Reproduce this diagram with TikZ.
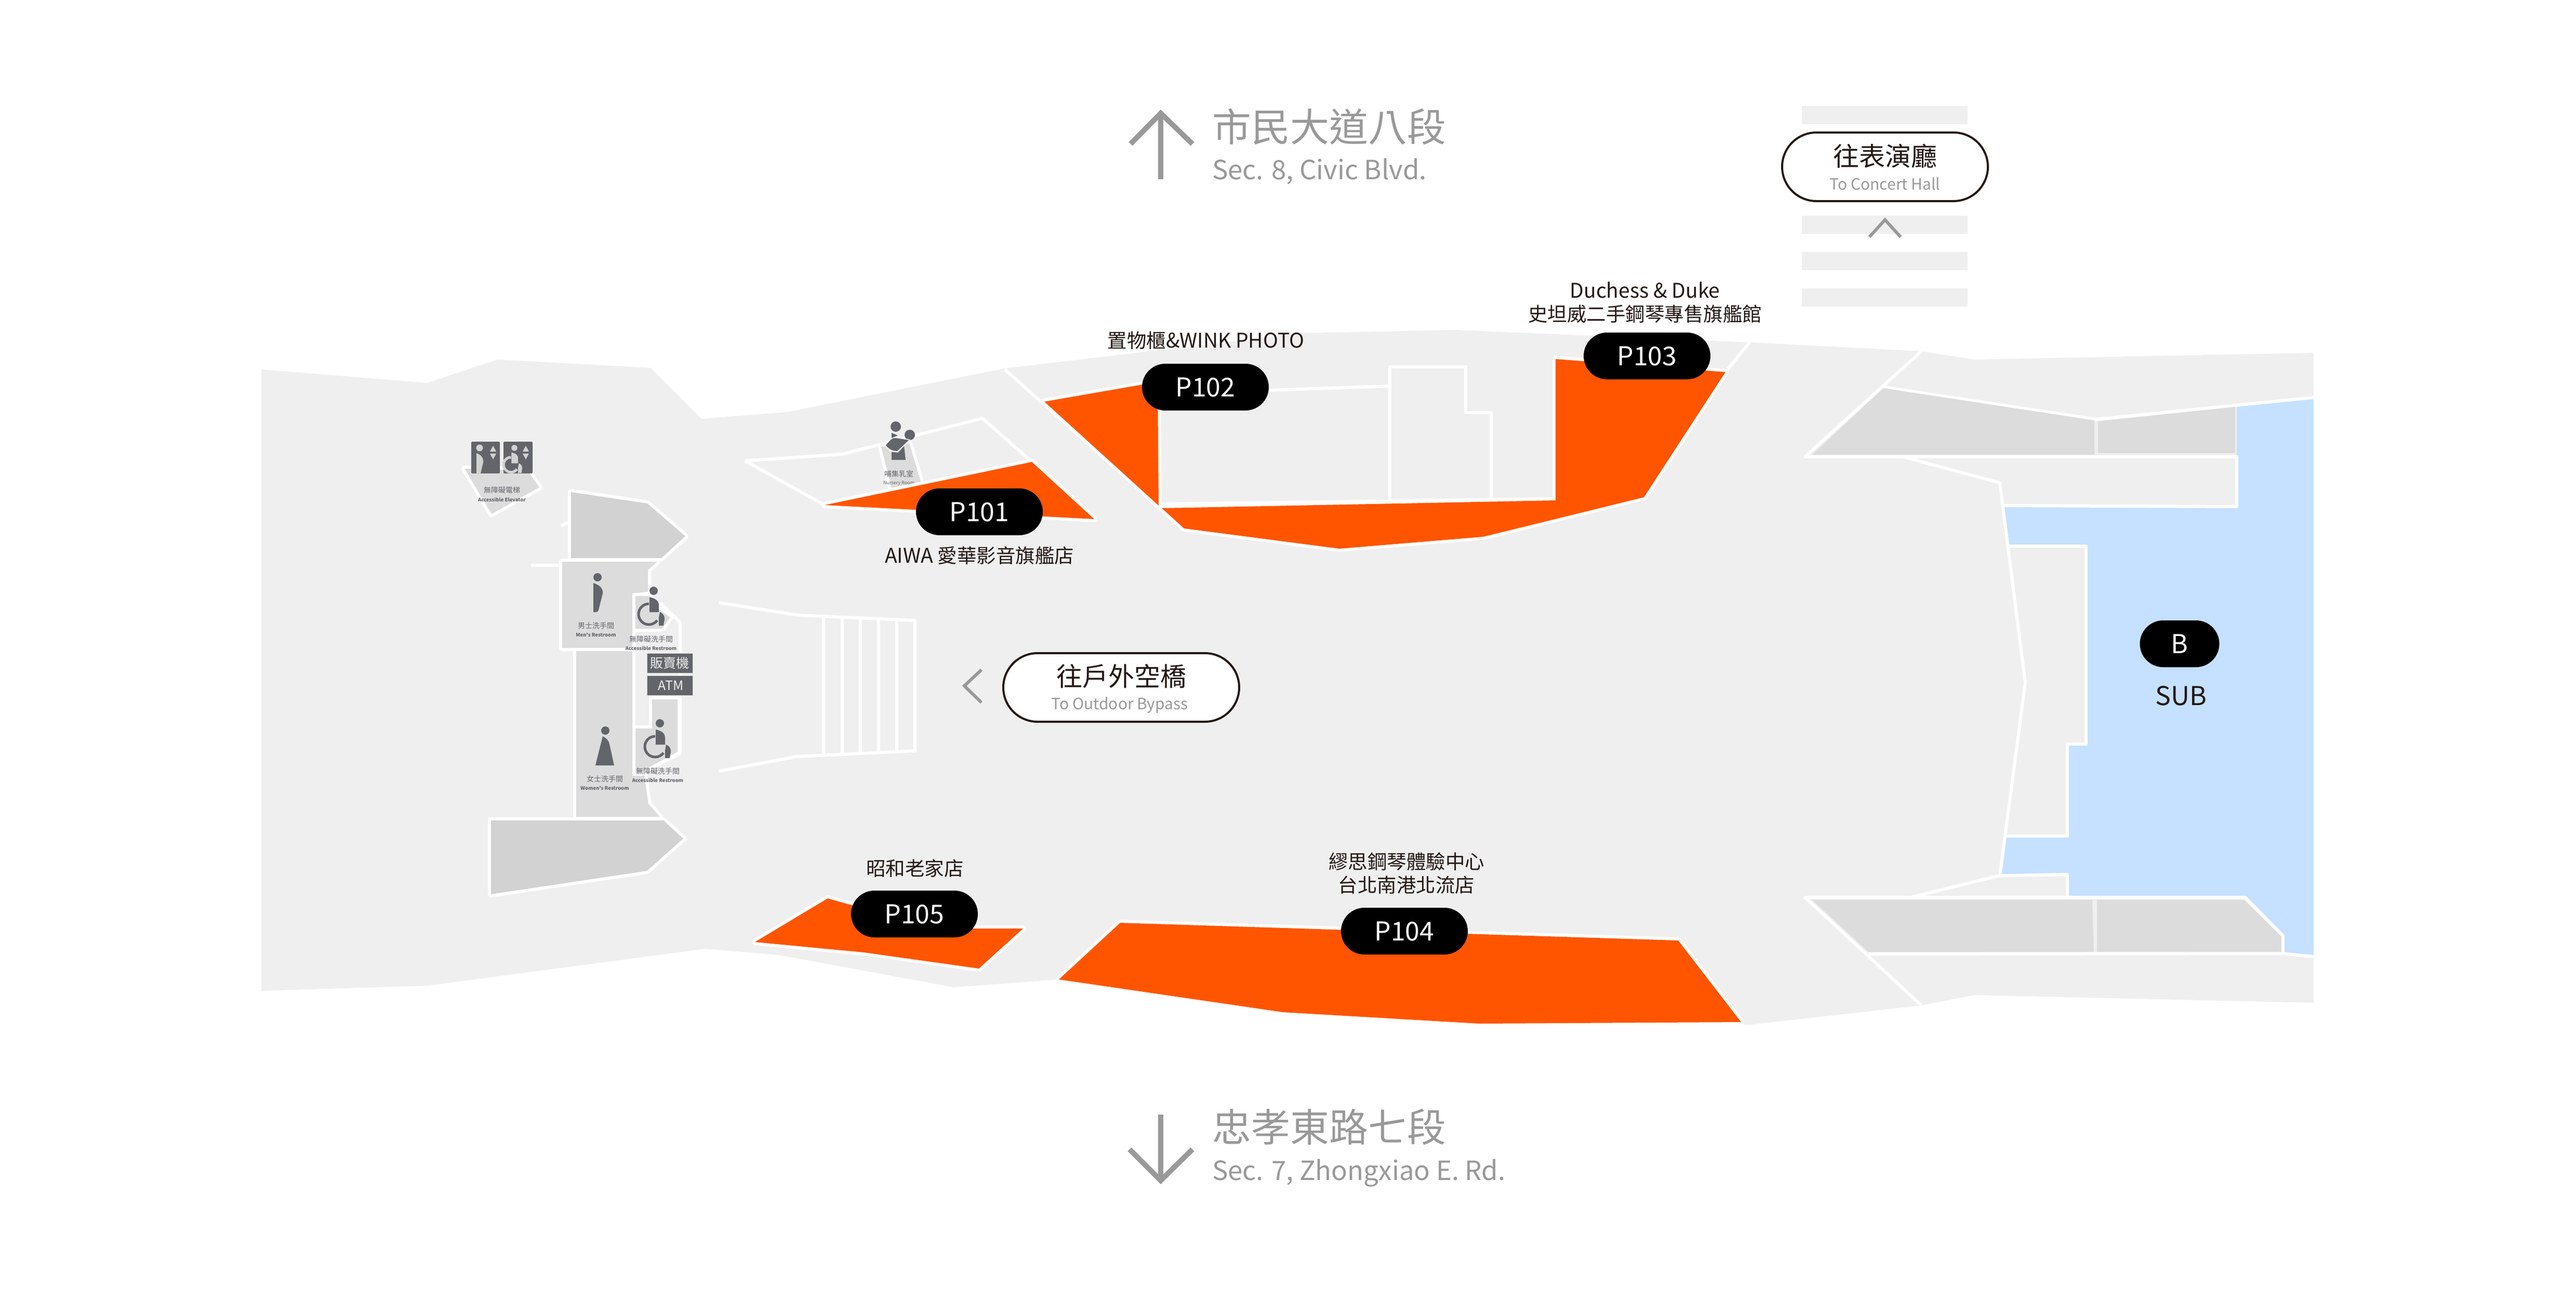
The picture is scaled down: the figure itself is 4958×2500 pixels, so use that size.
\documentclass[tikz,border=0pt]{standalone}
\usepackage{fontspec}
\setmainfont{Noto Sans CJK TC}
\newfontfamily\wideface[Scale=1.04]{Noto Sans CJK TC}
\newfontfamily\iconface{Noto Sans CJK TC}
\usetikzlibrary{shapes.misc}
\definecolor{floorc}{HTML}{EFEFEF}
\definecolor{roomc}{HTML}{DCDCDC}
\definecolor{corec}{HTML}{D2D2D2}
\definecolor{subc}{HTML}{C5E1FF}
\definecolor{shopc}{HTML}{FF5500}
\definecolor{inkc}{HTML}{231815}
\definecolor{streetc}{HTML}{999999}
\definecolor{iconc}{HTML}{63656A}
\tikzset{
  wall/.style={draw=white, line width=6, line join=round},
  room/.style={fill=roomc, preaction={draw=white, line width=12, line join=round}},
  core/.style={fill=corec, preaction={draw=white, line width=12, line join=round}},
  shop/.style={fill=shopc, preaction={draw=white, line width=12, line join=round}},
  pill/.style={rounded rectangle, fill=black, text=white, minimum width=244, minimum height=90,
    inner sep=0, font=\fontsize{50}{50}\selectfont},
  exitpill/.style={rounded rectangle, fill=white, draw=inkc, line width=4, minimum height=132,
    inner sep=0},
  shoplabel/.style={text=inkc, font=\fontsize{37.5}{45}\selectfont, align=center, inner sep=0},
  street/.style={draw=streetc, line width=10},
  hint/.style={draw=streetc, line width=6},
  bigname/.style={text=streetc, anchor=west, inner sep=0, font=\fontsize{75}{75}\selectfont},
  smallname/.style={text=streetc, anchor=west, inner sep=0, font=\fontsize{51}{51}\selectfont},
  iconzh/.style={text=iconc, inner sep=0, font=\fontsize{14}{14}\selectfont},
  iconen/.style={text=iconc, inner sep=0, font=\iconface\fontsize{9.5}{10}\selectfont\bfseries},
  signbox/.style={fill=iconc, draw=corec, line width=1, minimum width=88, minimum height=38, inner sep=0,
    text=floorc, font=\fontsize{25}{25}\selectfont},
  wheelchair/.pic={
    \fill (0,0) circle (8);
    \fill (-8,12) .. controls (5,15) and (10,20) .. (10,28) -- (10,41) -- (-8,41) -- cycle;
    \draw[line width=5] (-9,25) .. controls (-20,25) and (-29,34) .. (-29,45)
      .. controls (-29,56) and (-20,65) .. (-9,65) .. controls (-3,65) and (3,62) .. (7,57);
    \fill (12,41) .. controls (20,44) and (23,52) .. (20,60) -- (19,67) -- (10,67) -- (10,52) -- cycle;
  }
}
\begin{document}
\begin{tikzpicture}[x=1pt, y=-1pt]
  \useasboundingbox (0,0) rectangle (4958,2500);
  % floor
  \fill[floorc] (503,711)--(822,737)--(958,692)--(1252,708)--(1350,806)--(1515,793)--(1934,709)--(2509,641)
    --(2800,635)--(3370,659)--(3698,676)--(3800,692)--(4453,679)--(4453,1930)--(3800,1915)--(3698,1935)
    --(3368,1972)--(2847,1970)--(2469,1948)--(2038,1885)--(1836,1900)--(1499,1838)--(1357,1826)
    --(822,1897)--(503,1907)--cycle;
  \fill[subc] (4453,765)--(4305,781)--(4305,975)--(3856,973)--(3867,1051)--(4015,1051)--(4015,1432)--(3979,1432)
    --(3979,1609)--(3862,1609)--(3853,1683)--(3979,1683)--(3979,1727)--(4321,1727)--(4394,1801)--(4394,1835)
    --(4453,1841)--cycle;

  % crossing stripes
  \foreach \y in {204, 415, 485, 555} \fill[floorc] (3468,\y) rectangle (3787,\y+35);

  % east side
  \draw[wall] (3698,676)--(3474,879)--(4305,879)--(4305,975)--(3856,973);
  \draw[wall] (3625,745)--(4034,807)--(4453,765);
  \draw[wall] (3662,879)--(3849,929)--(3898,1314)--(3849,1685)--(3677,1727);
  \draw[wall] (3867,1051)--(4015,1051)--(4015,1432)--(3979,1432)--(3979,1609)--(3862,1609);
  \draw[wall] (3849,1685)--(3979,1683)--(3979,1727);
  \draw[wall] (3698,1935)--(3474,1727)--(4321,1727)--(4394,1801)--(4394,1835)--(4453,1841);
  \draw[wall] (3596,1836)--(4394,1835);
  \fill[roomc] (3625,747)--(4031,809)--(4031,875)--(3488,875)--cycle;
  \fill[roomc] (4038,811)--(4302,783)--(4302,872)--(4038,872)--cycle;
  \fill[roomc] (3488,1732)--(4027,1732)--(4030,1832)--(3596,1832)--cycle;
  \fill[roomc] (4036,1732)--(4319,1732)--(4391,1802)--(4391,1832)--(4036,1832)--cycle;

  % stairs
  \draw[wall] (1384,1160)--(1537,1184)--(1761,1194)--(1761,1445)--(1533,1456)--(1384,1484);
  \foreach \x/\a/\b in {1585/1186/1453, 1621/1188/1451, 1656/1189/1450, 1691/1191/1448, 1726/1193/1447}
    \draw[wall] (\x,\a)--(\x,\b);

  % restrooms
  \draw[wall] (1022,1088)--(1078,1088);
  \draw[wall] (1080,1012)--(1096,1004);
  \path[room] (894,902)--(946,989)--(1038,938)--(1015,905)--cycle;
  \path[core] (1099,947)--(1246,969)--(1319,1032)--(1273,1074)--(1099,1074)--cycle;
  \path[core] (945,1579)--(1277,1579)--(1315,1614)--(1245,1676)--(945,1721)--cycle;
  \draw[wall] (1250,1099)--(1250,1147)--(1220,1147)--(1220,1493);
  \draw[wall] (1270,1160)--(1309,1198)--(1309,1450)--(1250,1480);
  \draw[wall] (1220,1400)--(1252,1400)--(1252,1342)--(1306,1342);
  \path[room] (1082,1081)--(1265,1081)--(1247,1097)--(1247,1139)--(1217,1142)--(1217,1247)--(1082,1247)--cycle;
  \path[room] (1223,1147)--(1250,1147)--(1250,1160)--(1290,1188)--(1274,1210)--(1223,1210)--cycle;
  \path[room] (1255,1346)--(1304,1346)--(1304,1447)--(1243,1480)--(1223,1493)--(1223,1402)--(1255,1402)--cycle;
  \path[room] (1109,1253)--(1217,1253)--(1217,1493)--(1240,1493)--(1248,1547)--(1270,1572)--(1109,1572)--cycle;

  % elevators
  \fill[iconc, rounded corners=2] (907,850) rectangle (962,911);
  \fill[iconc, rounded corners=2] (969,850) rectangle (1025,911);
  \fill[corec] (923,862) circle (6.5);
  \fill[corec] (917,872) .. controls (926,875) and (931,882) .. (930,890) -- (925,911) -- (917,911) -- cycle;
  \pic[color=corec, scale=.72] at (990,862) {wheelchair};
  \foreach \x in {949, 1012} {
    \fill[corec] (\x-6,869)--(\x+6,869)--(\x,858)--cycle;
    \fill[corec] (\x-6,873)--(\x+6,873)--(\x,884)--cycle;
  }
  \node[iconzh] (elevatorzh) at (966,943) {無障礙電梯};
  \node[iconen] (elevatoren) at (966,962) {Accessible Elevator};

  % restroom signs
  \fill[iconc] (1150,1111) circle (8);
  \fill[iconc] (1142,1122) .. controls (1154,1126) and (1161,1132) .. (1160,1142) -- (1152,1174)
    .. controls (1151,1177) and (1150,1178) .. (1147,1178) -- (1142,1178) -- cycle;
  \node[iconzh] (menzh) at (1147,1204) {男士洗手間};
  \node[iconen] (menen) at (1147,1222) {Men's Restroom};
  \fill[iconc] (1165,1406) circle (8);
  \fill[iconc] (1160,1417) .. controls (1168,1421) and (1172,1426) .. (1173,1432) -- (1182,1473) -- (1146,1473) -- cycle;
  \node[iconzh] (womenzh) at (1164,1499) {女士洗手間};
  \node[iconen] (womenen) at (1164,1517) {Women's Restroom};
  \pic[color=iconc] at (1258,1137) {wheelchair};
  \node[iconzh] (accessazh) at (1253,1230) {無障礙洗手間};
  \node[iconen] (accessaen) at (1253,1248) {Accessible Restroom};
  \pic[color=iconc] at (1270,1392) {wheelchair};
  \node[iconzh] (accessbzh) at (1266,1484) {無障礙洗手間};
  \node[iconen] (accessben) at (1266,1502) {Accessible Restroom};
  \node[signbox] (vending) at (1289,1276) {販賣機};
  \node[signbox] (atm) at (1289,1319.5) {\hspace{4pt}ATM};

  % nursery
  \draw[wall] (1434,887)--(1621,874)--(1891,805)--(1986,889);
  \draw[wall] (1434,887)--(1587,972);
  \path[room] (1696,860)--(1750,853)--(1773,929)--(1716,940)--cycle;
  \fill[iconc] (1724,821) circle (10);
  \fill[iconc] (1751,837) circle (10);
  \fill[iconc] (1716,833)--(1728,838)--(1716,843)--cycle;
  \fill[iconc] (1716,862)--(1740,858)--(1743,885)--(1716,885)--cycle;
  \fill[floorc] (1703,858)--(1725,840)--(1752,846)--(1728,871)--(1712,869)--cycle;
  \fill[iconc] (1705,857) .. controls (1712,848) and (1718,842) .. (1724,843) -- (1749,847) -- (1727,868)
    .. controls (1720,868) and (1712,866) .. cycle;
  \node[iconzh] (nurseryzh) at (1730,912) {哺集乳室};
  \node[iconen, font=\fontsize{9}{10}\selectfont] (nurseryen) at (1730,930) {Nursery Room};

  % shops
  \draw[wall] (1934,711)--(2278,1019);
  \draw[wall] (2230,973)--(2230,788);
  \draw[wall] (2230,970)--(2994,960);
  \draw[wall] (2442,751)--(2675,743);
  \draw[wall] (2675,966)--(2675,706)--(2821,706)--(2821,794)--(2870,794)--(2870,963);
  \draw[wall] (3321,716)--(3367,659);
  \path[shop] (1587,972)--(1986,889)--(2106,999)--cycle;
  \path[shop] (2010,773)--(2228,735)--(2230,973)--cycle;
  \path[shop] (2236,978)--(2994,963)--(2994,691)--(3321,716)--(3164,957)--(2855,1033)--(2578,1056)--(2279,1017)--cycle;
  \path[shop] (2156,1776)--(3230,1810)--(3351,1967)--(2847,1970)--(2469,1948)--(2038,1885)--cycle;
  \path[shop] (1593,1729)--(1650,1745)--(1700,1787)--(1969,1787)--(1884,1864)--(1663,1833)--(1453,1813)--cycle;

  \foreach \id/\x/\y in {P101/1885/985, P102/2320/745, P103/3170/685, P104/2703/1792, P105/1760/1759}
    \node[pill] (\id) at (\x,\y) {\id};
  \node[pill, minimum width=153] (subpill) at (4195,1239) {B};
  \node[text=inkc, inner sep=0, font=\fontsize{50}{50}\selectfont] (subname) at (4198,1339) {SUB};

  \node[shoplabel] (aiwa) at (1885,1069) {{\wideface AIWA} 愛華影音旗艦店};
  \node[shoplabel] (lockers) at (2321,655) {置物櫃{\wideface\&WINK PHOTO}};
  \node[shoplabel] (duchess) at (3166,582) {{\wideface Duchess \& Duke}\\史坦威二手鋼琴專售旗艦館};
  \node[shoplabel] (showa) at (1761,1671) {昭和老家店};
  \node[shoplabel] (muse) at (2707,1681) {繆思鋼琴體驗中心\\台北南港北流店};

  % exits
  \node[exitpill, minimum width=396] (concert) at (3628,321) {};
  \node[text=inkc, inner sep=0, font=\fontsize{50}{50}\selectfont] (concertzh) at (3628,300) {往表演廳};
  \node[text=streetc, inner sep=0, font=\fontsize{30}{30}\selectfont] (concerten) at (3628,354) {To Concert Hall};
  \draw[hint] (3598,456)--(3628,423)--(3658,456);
  \node[exitpill, minimum width=454] (bypass) at (2158,1323) {};
  \node[text=inkc, inner sep=0, font=\fontsize{50}{50}\selectfont] (bypasszh) at (2158,1301) {往戶外空橋};
  \node[text=streetc, inner sep=0, font=\fontsize{30}{30}\selectfont] (bypassen) at (2155,1357) {To Outdoor Bypass};
  \draw[hint] (1889,1289)--(1856,1320)--(1889,1352);

  % streets
  \draw[street] (2234,345)--(2234,218);
  \draw[street] (2176,277)--(2234,218)--(2295,277);
  \node[bigname] (civiczh) at (2333,244) {市民大道八段};
  \node[smallname] (civicen) at (2333,330) {Sec. 8, Civic Blvd.};
  \draw[street] (2234,2145)--(2234,2272);
  \draw[street] (2174,2212)--(2234,2272)--(2295,2212);
  \node[bigname] (xiaozh) at (2333,2169) {忠孝東路七段};
  \node[smallname] (xiaoen) at (2333,2258) {Sec. 7, Zhongxiao E. Rd.};
\end{tikzpicture}
\end{document}
